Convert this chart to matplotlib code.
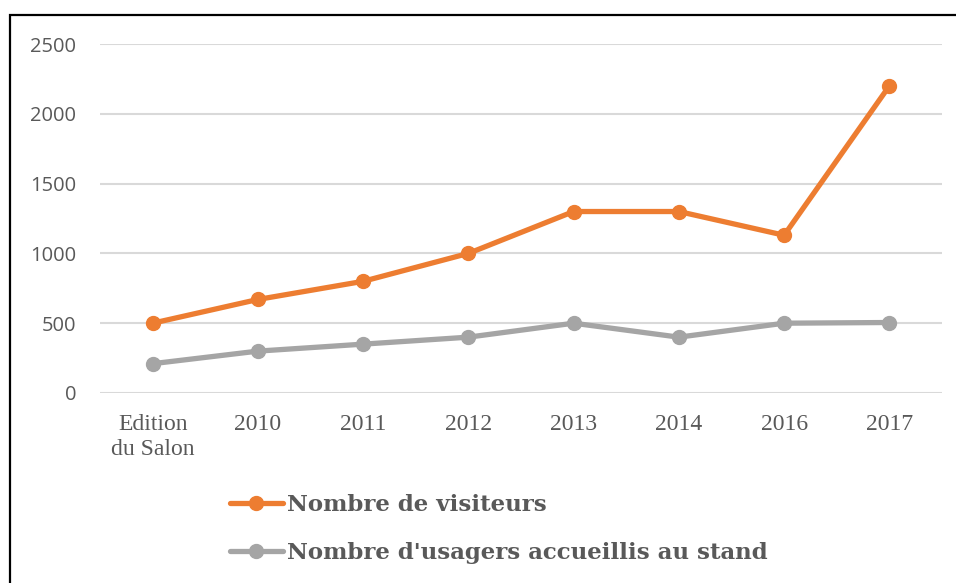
import matplotlib
matplotlib.use("Agg")
import matplotlib.pyplot as plt
from matplotlib.patches import Rectangle

# Data
categories = ["Edition\ndu Salon", "2010", "2011", "2012", "2013", "2014", "2016", "2017"]
visiteurs = [500, 670, 800, 1000, 1300, 1300, 1130, 2200]
usagers = [210, 300, 350, 400, 500, 400, 500, 505]
yticks = [0, 500, 1000, 1500, 2000, 2500]

ORANGE = "#ED7D31"
GREY = "#A5A5A5"
TEXT = "#595959"

W, H = 956, 583
fig = plt.figure(figsize=(W / 100, H / 100), dpi=100)
ax = fig.add_axes([100 / W, 1 - 393 / H, 842 / W, 349 / H])

x = range(len(categories))
ax.plot(x, visiteurs, color=ORANGE, lw=3.8, marker="o", ms=10,
        solid_capstyle="round", label="Nombre de visiteurs", zorder=3)
ax.plot(x, usagers, color=GREY, lw=3.8, marker="o", ms=10,
        solid_capstyle="round", label="Nombre d'usagers accueillis au stand", zorder=3)

ax.set_xlim(-0.5, len(categories) - 0.5)
ax.set_ylim(0, 2500)
ax.set_yticks(yticks)
ax.set_yticklabels([str(v) for v in yticks], family="Open Sans", fontsize=14.5, color=TEXT)
ax.set_xticks(list(x))
ax.set_xticklabels(categories, family="Liberation Serif", fontsize=17, color=TEXT,
                   linespacing=1.25, va="top")
ax.tick_params(axis="y", length=0, pad=17)
ax.tick_params(axis="x", length=0, pad=15)
ax.grid(axis="y", color="#D9D9D9", lw=1.5)
ax.set_axisbelow(True)
for s in ax.spines.values():
    s.set_visible(False)

leg = fig.legend(loc="upper left", bbox_to_anchor=(214 / W, 1 - 478 / H),
                 frameon=False, handlelength=2.3, handletextpad=0.2,
                 labelspacing=1.15, borderpad=0.2,
                 prop={"family": "DejaVu Serif", "weight": "bold", "size": 16.5})
for t in leg.get_texts():
    t.set_color(TEXT)

# frame around the chart (right and bottom edges run off the picture)
fig.patches.append(Rectangle((10 / W, -0.1), 1.2, 1 - 15 / H + 0.1,
                             transform=fig.transFigure, fill=False,
                             edgecolor="black", lw=1.6))

fig.savefig("out.png", dpi=100)
